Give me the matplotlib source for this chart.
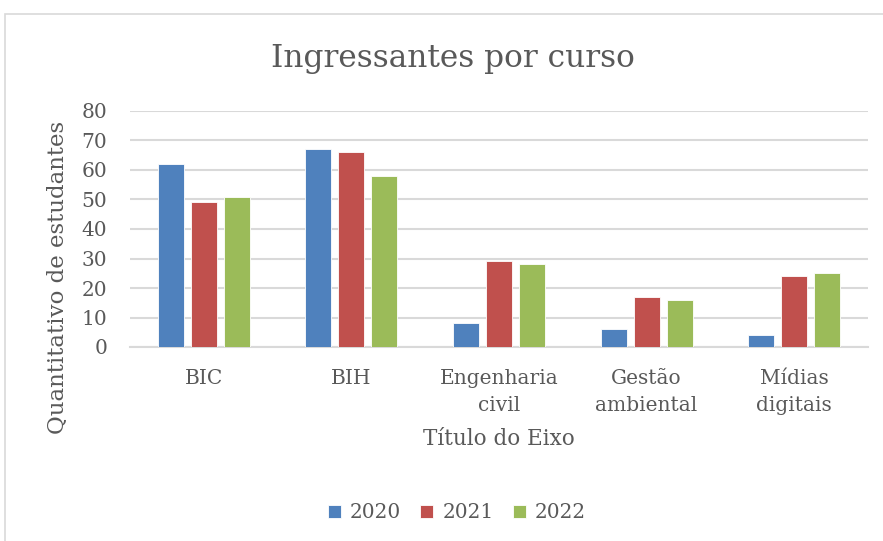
import numpy as np
import matplotlib.pyplot as plt
from matplotlib.patches import Rectangle

# data
cursos = ['BIC', 'BIH', 'Engenharia\ncivil', 'Gestão\nambiental', 'Mídias\ndigitais']
anos = ['2020', '2021', '2022']
v2020 = [62, 67, 8, 6, 4]
v2021 = [49, 66, 29, 17, 24]
v2022 = [51, 58, 28, 16, 25]
cores = ['#4F81BD', '#C0504D', '#9BBB59']

plt.rcParams['font.family'] = ['DejaVu Serif']
txt = '#595959'

fig = plt.figure(figsize=(8.83, 5.41), dpi=100)
fig.patches.append(Rectangle((5 / 883, -0.1), 1.1, 1 - 14 / 541 + 0.1,
                             transform=fig.transFigure, fill=False,
                             edgecolor='#D9D9D9', lw=1.2))
ax = fig.add_axes([130 / 883, 1 - 347 / 541, 738 / 883, 236 / 541])

x = np.arange(len(cursos))
w = 0.176
step = 0.224
for i, (vals, ano) in enumerate(zip([v2020, v2021, v2022], anos)):
    ax.bar(x + (i - 1) * step, vals, w, color=cores[i], label=ano,
           edgecolor='white', linewidth=0.6, zorder=3)

ax.set_xlim(-0.5, len(cursos) - 0.5)
ax.set_ylim(0, 80)
ax.set_yticks(range(0, 81, 10))
ax.yaxis.grid(True, color='#D9D9D9', lw=1.5, zorder=0)
for s in ['top', 'right', 'left']:
    ax.spines[s].set_visible(False)
ax.spines['bottom'].set_color('#D9D9D9')
ax.spines['bottom'].set_linewidth(1.5)
ax.tick_params(length=0, labelsize=14.5, colors=txt)
ax.tick_params(axis='y', pad=16.5)
ax.set_xticks(x)
ax.set_xticklabels(cursos, linespacing=1.55)
ax.tick_params(axis='x', pad=16)

fig.text(58 / 883, 1 - 277 / 541, 'Quantitativo de estudantes', fontsize=16.5,
         color=txt, rotation=90, ha='center', va='center')
ax.set_xlabel('Título do Eixo', fontsize=15.5, color=txt, labelpad=9)
fig.text(453 / 883, 1 - 58 / 541, 'Ingressantes por curso', fontsize=22.5,
         color=txt, ha='center', va='center')

fig.legend(loc='center', bbox_to_anchor=(457 / 883, 1 - 513 / 541), ncol=3,
           frameon=False, fontsize=14.5, labelcolor=txt, handlelength=0.65,
           handleheight=0.65, columnspacing=0.95, handletextpad=0.45)

fig.savefig('out.png', dpi=100)
